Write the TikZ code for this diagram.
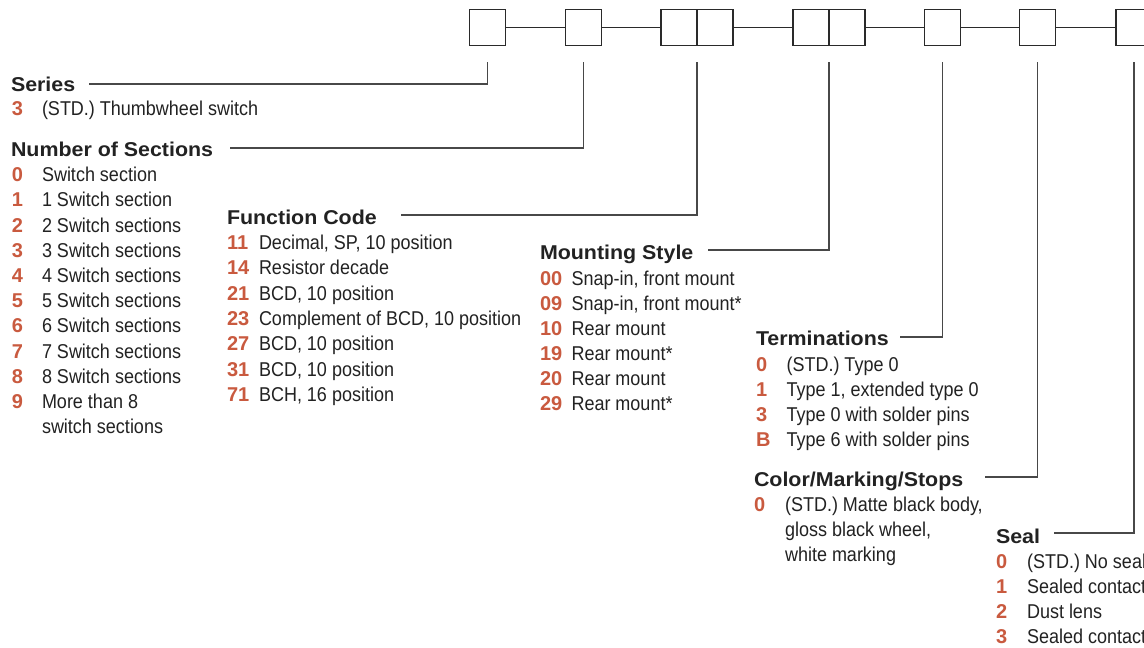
\documentclass[tikz,border=0pt]{standalone}
\usepackage{fontspec}
\setmainfont{Liberation Sans}
\newfontfamily\itemfnt[FakeStretch=0.9]{Liberation Sans}
\newfontfamily\headfnt[FakeStretch=1.07]{Liberation Sans Bold}
\newfontfamily\numfnt{Liberation Sans Bold}
\definecolor{txt}{HTML}{222222}
\definecolor{numc}{HTML}{C95A3F}
\definecolor{boxc}{HTML}{2A2A2A}
\definecolor{leadc}{HTML}{484848}
\tikzset{
  head/.style={anchor=base west, inner sep=0pt, outer sep=0pt, text=txt, font=\headfnt\fontsize{20}{25}\selectfont},
  num/.style={anchor=base west, inner sep=0pt, outer sep=0pt, text=numc, font=\numfnt\fontsize{20}{25}\selectfont},
  itm/.style={anchor=base west, inner sep=0pt, outer sep=0pt, text=txt, font=\itemfnt\fontsize{20}{25}\selectfont},
  codebox/.style={draw=boxc, line width=1.3pt, minimum width=36pt, minimum height=36pt, inner sep=0pt, outer sep=0pt, fill=white},
  link/.style={draw=boxc, line width=1.2pt},
  leader/.style={draw=leadc, line width=1.2pt}
}
\begin{document}
\begin{tikzpicture}[x=1pt,y=-1pt]
\useasboundingbox[fill=white] (0,0) rectangle (1144,648);
% boxes
\node[codebox] (b1) at (487.5,27.3) {};
\node[codebox] (b2) at (583.5,27.3) {};
\node[codebox] (b3a) at (679,27.3) {};
\node[codebox] (b3b) at (715,27.3) {};
\node[codebox] (b4a) at (811,27.3) {};
\node[codebox] (b4b) at (847,27.3) {};
\node[codebox] (b5) at (942.5,27.3) {};
\node[codebox] (b6) at (1037.5,27.3) {};
\node[codebox] (b7) at (1134,27.3) {};
\draw[link] (b1.east) -- (b2.west);
\draw[link] (b2.east) -- (b3a.west);
\draw[link] (b3b.east) -- (b4a.west);
\draw[link] (b4b.east) -- (b5.west);
\draw[link] (b5.east) -- (b6.west);
\draw[link] (b6.east) -- (b7.west);
\coordinate (top) at (0,62);
% Series
\node[head] (hser) at (11,91) {Series};
\node[num] (n1a) at (12,115) {3};
\node[itm] (t1a) at (42,115) {(STD.) Thumbwheel switch};
\coordinate (l1) at (89,84);
\draw[leader] (l1) -| (b1 |- top);
% Number of sections
\node[head] (hnos) at (11,156) {Number of Sections};
\foreach \n/\t [count=\k from 0] in {0/Switch section,1/1 Switch section,2/2 Switch sections,3/3 Switch sections,4/4 Switch sections,5/5 Switch sections,6/6 Switch sections,7/7 Switch sections,8/8 Switch sections,9/More than 8}{
  \node[num] (n2\k) at (12,181.7+25.2*\k) {\n};
  \node[itm] (t2\k) at (42,181.7+25.2*\k) {\t};
}
\node[itm] (t2x) at (42,433.7) {switch sections};
\coordinate (l2) at (230,148);
\draw[leader] (l2) -| (b2 |- top);
% Function code
\node[head] (hfun) at (227,224) {Function Code};
\foreach \n/\t [count=\k from 0] in {11/{Decimal, SP, 10 position},14/Resistor decade,21/{BCD, 10 position},23/{Complement of BCD, 10 position},27/{BCD, 10 position},31/{BCD, 10 position},71/{BCH, 16 position}}{
  \node[num] (n3\k) at (227,249.5+25.3*\k) {\n};
  \node[itm] (t3\k) at (259,249.5+25.3*\k) {\t};
}
\coordinate (l3) at (401,215);
\draw[leader] (l3) -| (b3a.east |- top);
% Mounting style
\node[head] (hmnt) at (540,259) {Mounting Style};
\foreach \n/\t [count=\k from 0] in {00/{Snap-in, front mount},09/{Snap-in, front mount*},10/Rear mount,19/Rear mount*,20/Rear mount,29/Rear mount*}{
  \node[num] (n4\k) at (540,285+25*\k) {\n};
  \node[itm] (t4\k) at (571.5,285+25*\k) {\t};
}
\coordinate (l4) at (708,250);
\draw[leader] (l4) -| (b4a.east |- top);
% Terminations
\node[head] (hter) at (756,345) {Terminations};
\foreach \n/\t [count=\k from 0] in {0/(STD.) Type 0,1/{Type 1, extended type 0},3/Type 0 with solder pins,B/Type 6 with solder pins}{
  \node[num] (n5\k) at (756,371.5+25*\k) {\n};
  \node[itm] (t5\k) at (786.5,371.5+25*\k) {\t};
}
\coordinate (l5) at (900,337);
\draw[leader] (l5) -| (b5 |- top);
% Color/Marking/Stops
\node[head] (hcol) at (754,486) {Color/Marking/Stops};
\node[num] (n6a) at (754,511.5) {0};
\node[itm] (t6a) at (785,511.5) {(STD.) Matte black body,};
\node[itm] (t6b) at (785,536.5) {gloss black wheel,};
\node[itm] (t6c) at (785,561.5) {white marking};
\coordinate (l6) at (985,477);
\draw[leader] (l6) -| (b6 |- top);
% Seal
\node[head] (hsea) at (996,543) {Seal};
\foreach \n/\t [count=\k from 0] in {0/(STD.) No seal,1/Sealed contacts,2/Dust lens,3/Sealed contacts}{
  \node[num] (n7\k) at (996,568+25.2*\k) {\n};
  \node[itm] (t7\k) at (1027,568+25.2*\k) {\t};
}
\coordinate (l7) at (1054,533);
\draw[leader] (l7) -| (b7 |- top);
\end{tikzpicture}
\end{document}
